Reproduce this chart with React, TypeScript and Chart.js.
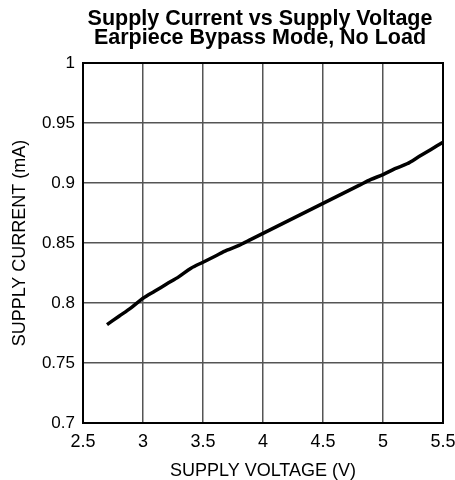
import React, { useEffect, useRef } from "react";
import { Chart, registerables } from "chart.js";

Chart.register(...registerables);

const voltages = [2.7, 2.8, 2.9, 3.0, 3.1, 3.2, 3.3, 3.4, 3.5, 3.6, 3.7, 3.8, 3.9, 4.0, 4.1, 4.2, 4.3, 4.4, 4.5, 4.6, 4.7, 4.8, 4.9, 5.0, 5.1, 5.2, 5.3, 5.4, 5.5];
const currents = [0.782, 0.789, 0.796, 0.804, 0.810, 0.816, 0.822, 0.829, 0.834, 0.839, 0.844, 0.848, 0.853, 0.858, 0.863, 0.868, 0.873, 0.878, 0.883, 0.888, 0.893, 0.898, 0.903, 0.907, 0.912, 0.916, 0.922, 0.928, 0.934];
const titleLines = ["Supply Current vs Supply Voltage", "Earpiece Bypass Mode, No Load"];
const xTitle = "SUPPLY VOLTAGE (V)";
const yTitle = "SUPPLY CURRENT (mA)";

const FONT = "Arial, 'Liberation Sans', Helvetica, sans-serif";
const fmt = (v: any) => String(Number(Number(v).toFixed(2)));

export default function App() {
  const ref = useRef<HTMLCanvasElement | null>(null);
  useEffect(() => {
    if (!ref.current) return;
    const chart = new Chart(ref.current, {
      type: "line",
      data: {
        datasets: [
          {
            data: voltages.map((v, i) => ({ x: v, y: currents[i] })),
            borderColor: "#000",
            borderWidth: 3.5,
            pointRadius: 0,
            tension: 0.3,
            fill: false,
          },
        ],
      },
      options: {
        responsive: false,
        animation: false,
        layout: { padding: { left: 0, right: 12, top: 63, bottom: 0 } },
        plugins: {
          legend: { display: false },
          tooltip: { enabled: false },
          title: { display: false },
        },
        scales: {
          x: {
            type: "linear",
            min: 2.5,
            max: 5.5,
            ticks: { stepSize: 0.5, color: "#000", font: { family: FONT, size: 18 }, padding: 8, maxRotation: 0, callback: fmt },
            grid: { color: "#555", lineWidth: 1.5, drawTicks: false },
            border: { color: "#000", width: 2 },
            title: { display: true, text: xTitle, color: "#000", font: { family: FONT, size: 18 }, padding: { top: 0, bottom: -2 } },
            afterFit: (s: any) => { s.height = 57; s.paddingRight = 0; s.paddingLeft = 0; },
          },
          y: {
            min: 0.7,
            max: 1,
            ticks: { stepSize: 0.05, color: "#000", font: { family: FONT, size: 17 }, padding: 8, callback: fmt },
            grid: { color: "#555", lineWidth: 1.5, drawTicks: false },
            border: { color: "#000", width: 2 },
            title: { display: true, text: yTitle, color: "#000", font: { family: FONT, size: 18 }, padding: { top: 9, bottom: 0 } },
            afterFit: (s: any) => { s.width = 83; s.paddingTop = 0; s.paddingBottom = 0; },
          },
        },
      },
      plugins: [
        {
          id: "frameAndTitle",
          afterDraw(c: any) {
            const { ctx, chartArea: a } = c;
            ctx.save();
            ctx.strokeStyle = "#000";
            ctx.lineWidth = 2;
            ctx.strokeRect(a.left, a.top, a.right - a.left, a.bottom - a.top);
            ctx.fillStyle = "#000";
            ctx.font = `bold 21.5px ${FONT}`;
            ctx.textAlign = "center";
            ctx.textBaseline = "alphabetic";
            const cx = (a.left + a.right) / 2 - 3;
            ctx.fillText(titleLines[0], cx, 25);
            ctx.fillText(titleLines[1], cx, 44);
            ctx.restore();
          },
        },
      ],
    });
    return () => chart.destroy();
  }, []);
  return (
    <div style={{ position: "absolute", left: 0, top: 0, width: 455, height: 480, background: "#fff" }}>
      <canvas ref={ref} width={455} height={480} style={{ display: "block" }} />
    </div>
  );
}
